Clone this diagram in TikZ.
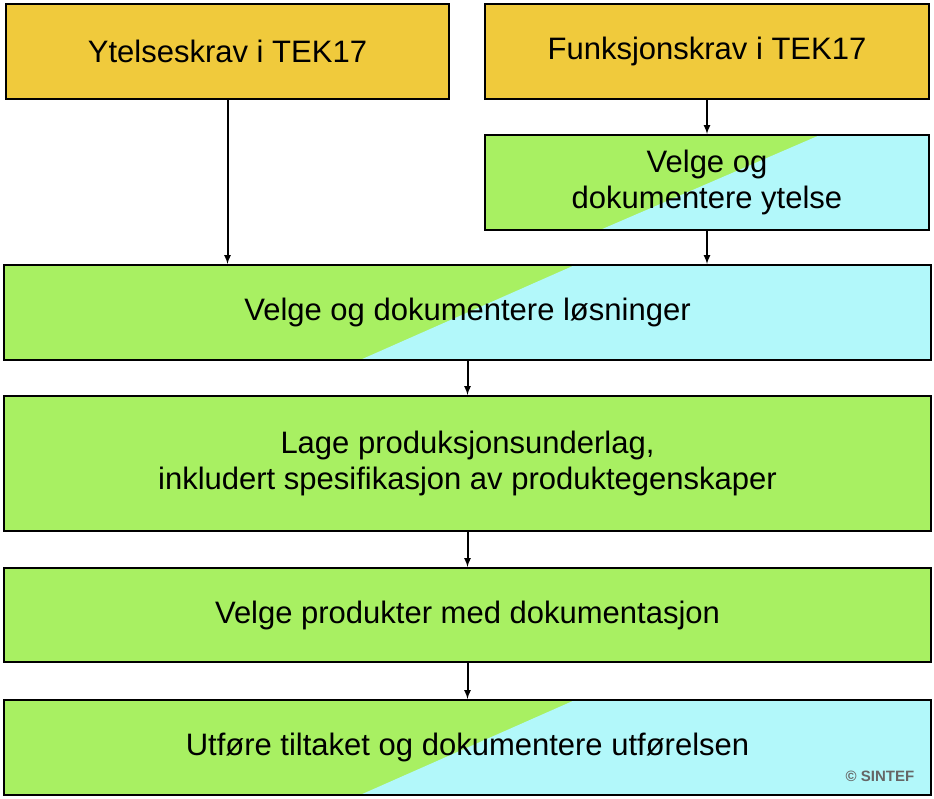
\documentclass[tikz,border=0pt]{standalone}
\usepackage{fontspec}
\setmainfont{Liberation Sans}
\definecolor{ylw}{HTML}{F0CA3C}
\definecolor{grn}{HTML}{A8F062}
\definecolor{cyn}{HTML}{B2F8FA}
\begin{document}
\begin{tikzpicture}[x=1pt,y=-1pt,
  box/.style={draw=black,line width=2pt,font=\fontsize{31}{36}\selectfont,align=center,inner sep=0pt},
  arr/.style={-latex,line width=2pt}]
\useasboundingbox (0,0) rectangle (934,798);
% split fills
\fill[grn] (485,135) rectangle (929,230);
\fill[cyn] (820,135) -- (929,135) -- (929,230) -- (600,230) -- cycle;
\fill[grn] (4,265) rectangle (931,360);
\fill[cyn] (575,265) -- (931,265) -- (931,360) -- (360,360) -- cycle;
\fill[grn] (4,700) rectangle (931,795);
\fill[cyn] (575,700) -- (931,700) -- (931,795) -- (360,795) -- cycle;
\node[box,fill=ylw,minimum width=443,minimum height=95] (a) at (227.5,51.5) {Ytelseskrav i TEK17};
\node[box,fill=ylw,minimum width=444,minimum height=95] (b) at (707,51.5) {Funksjonskrav i TEK17};
\node[box,minimum width=444,minimum height=95] (c) at (707,182.5) {Velge og\\dokumentere ytelse};
\node[box,minimum width=927,minimum height=95] (d) at (467.5,312.5) {Velge og dokumentere løsninger};
\node[box,fill=grn,minimum width=927,minimum height=135] (e) at (467.5,463.5) {Lage produksjonsunderlag,\\inkludert spesifikasjon av produktegenskaper};
\node[box,fill=grn,minimum width=927,minimum height=94] (f) at (467.5,615) {Velge produkter med dokumentasjon};
\node[box,minimum width=927,minimum height=95] (g) at (467.5,747.5) {Utføre tiltaket og dokumentere utførelsen};
\node[font=\bfseries\fontsize{15}{16}\selectfont,text=black!60] (s) at (880,776) {© SINTEF};
\draw[arr] (a.south) -- (a.south|-d.north);
\draw[arr] (b) -- (c);
\draw[arr] (c) -- (c.south|-d.north);
\draw[arr] (d) -- (e);
\draw[arr] (e) -- (f);
\draw[arr] (f) -- (g);
\end{tikzpicture}
\end{document}
